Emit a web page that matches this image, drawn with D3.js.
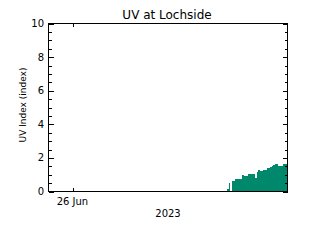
<!DOCTYPE html>
<html>
<head>
<meta charset="utf-8">
<script src="https://cdn.jsdelivr.net/npm/d3@7"></script>
<style>
  html, body { margin: 0; padding: 0; background: #fff; }
  svg { display: block; font-family: "DejaVu Sans", sans-serif; }
</style>
</head>
<body>
<svg width="320" height="240"></svg>
<script>
// readings on 26 Jun 2023 (UTC), 10 minute samples
const times = ["15:25","15:35","15:45","15:55","16:05","16:15","16:25","16:35","16:45","16:55",
    "17:05","17:15","17:25","17:35","17:45","17:55","18:05","18:15","18:25","18:35",
    "18:45","18:55","19:05","19:15","19:25","19:35","19:45","19:55","20:05","20:15",
    "20:25","20:35","20:45","20:55","21:05","21:15","21:25"]
const uv = [0.12, 0.48, 0.05, 0.6, 0.6, 0.72, 0.72, 0.72, 0.76, 1.0,
    0.9, 0.9, 0.9, 1.02, 1.02, 1.02, 1.04, 0.82, 1.14, 1.28,
    1.22, 1.22, 1.3, 1.3, 1.42, 1.42, 1.46, 1.5, 1.56, 1.62,
    1.62, 1.5, 1.5, 1.52, 1.62, 1.62, 1.6]
const yTicks = [0, 2, 4, 6, 8, 10]
const xTickDates = ["2023-06-26T00:00Z"]
const xTickLabels = ["26 Jun"]

const parse = d3.utcParse("%Y-%m-%d %H:%M")
const data = times.map((t, i) => ({ t: parse("2023-06-26 " + t), v: uv[i] }))
// last step ends 10 min after last sample
data.push({ t: d3.utcMinute.offset(data[data.length - 1].t, 10), v: uv[uv.length - 1] })

const svg = d3.select("svg")

const x = d3.scaleUtc()
    .domain([new Date("2023-06-25T21:30Z"), new Date("2023-06-26T21:30Z")])
    .range([48.5, 287.5])
const y = d3.scaleLinear().domain([0, 10]).range([191.5, 23.5])

svg.append("defs").append("clipPath").attr("id", "clip")
    .append("rect")
    .attr("x", 48.5).attr("y", 23.5)
    .attr("width", 239).attr("height", 168)

// filled step area
const area = d3.area()
    .curve(d3.curveStepAfter)
    .x(d => x(d.t))
    .y0(y(0))
    .y1(d => y(d.v))

svg.append("path")
    .datum(data)
    .attr("clip-path", "url(#clip)")
    .attr("d", area)
    .attr("fill", "#00886c")
    .attr("shape-rendering", "crispEdges")

// left and right y axes (ticks pointing in)
const yMinor = d3.range(0, 10.01, 0.5)
const yAxisL = d3.axisRight(y).tickValues(yMinor).tickSize(3).tickFormat("")
const yAxisR = d3.axisLeft(y).tickValues(yMinor).tickSize(3).tickFormat("")

svg.append("g").attr("transform", "translate(48.5,0)").call(yAxisL)
    .call(g => g.selectAll(".tick line").filter(d => d % 2 == 0).attr("x2", 5))
svg.append("g").attr("transform", "translate(287.5,0)").call(yAxisR)
    .call(g => g.selectAll(".tick line").filter(d => d % 2 == 0).attr("x2", -5))

// bottom and top x axes
const xDates = xTickDates.map(d => new Date(d))
svg.append("g").attr("transform", "translate(0,191.5)")
    .call(d3.axisTop(x).tickValues(xDates).tickSize(4).tickFormat(""))
svg.append("g").attr("transform", "translate(0,23.5)")
    .call(d3.axisBottom(x).tickValues(xDates).tickSize(3).tickFormat(""))

svg.selectAll(".domain").remove()
svg.selectAll(".tick line").attr("stroke", "#000").attr("shape-rendering", "crispEdges")

// frame
svg.append("rect")
    .attr("x", 48.5).attr("y", 23.5)
    .attr("width", 239).attr("height", 168)
    .attr("fill", "none")
    .attr("stroke", "#000")
    .attr("shape-rendering", "crispEdges")

// y tick labels
svg.append("g")
    .selectAll("text")
    .data(yTicks)
    .enter()
    .append("text")
    .attr("x", 44)
    .attr("y", d => y(d))
    .attr("dy", "0.35em")
    .attr("text-anchor", "end")
    .style("font-size", "10px")
    .text(d => d)

// x tick labels
svg.append("g")
    .selectAll("text")
    .data(xDates)
    .enter()
    .append("text")
    .attr("x", d => x(d) - 1)
    .attr("y", 204.5)
    .attr("text-anchor", "middle")
    .style("font-size", "10px")
    .text((d, i) => xTickLabels[i])

svg.append("text")
    .attr("x", 168)
    .attr("y", 217)
    .attr("text-anchor", "middle")
    .style("font-size", "10px")
    .text("2023")

svg.append("text")
    .attr("transform", "translate(25.5,105) rotate(-90)")
    .attr("text-anchor", "middle")
    .style("font-size", "9px")
    .text("UV Index (index)")

svg.append("text")
    .attr("x", 167)
    .attr("y", 18.5)
    .attr("text-anchor", "middle")
    .style("font-size", "12px")
    .text("UV at Lochside")
</script>
</body>
</html>
